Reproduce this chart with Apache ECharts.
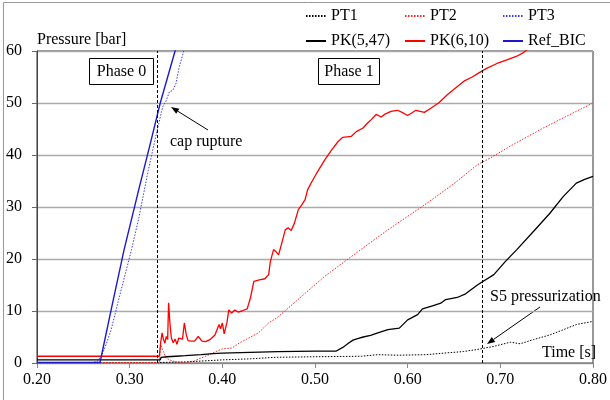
<!DOCTYPE html>
<html>
<head>
<meta charset="utf-8">
<script src="https://cdn.jsdelivr.net/npm/echarts@6/dist/echarts.min.js"></script>
<style>
  html, body { margin: 0; padding: 0; background: #fff; }
  #chart { width: 610px; height: 400px; }
</style>
</head>
<body>
<div id="chart"></div>
<script>
// Time [s] vs pressure [bar] samples for each measurement channel
const pt1 = [[0.20,0.05],[0.33,0.1],[0.36,0.2],[0.38,0.4],[0.40,0.6],[0.43,0.8],[0.458,1.1],[0.50,1.2],[0.55,1.3],[0.5678,1.6],[0.59,1.5],[0.62,1.6],[0.639,1.9],[0.66,2.2],[0.675,2.6],[0.693,3.2],[0.7107,4.0],[0.7214,3.7],[0.7357,4.5],[0.7535,5.4],[0.768,6.4],[0.782,7.4],[0.80,8.0]];

const pt2 = [[0.20,0.05],[0.332,0.1],[0.3335,3.5],[0.335,2.8],[0.3365,2.2],[0.339,1.0],[0.343,0.6],[0.35,0.2],[0.36,0.1],[0.37,0.4],[0.376,0.9],[0.382,1.3],[0.393,2.2],[0.40,2.7],[0.4107,2.9],[0.418,3.8],[0.4285,4.8],[0.439,5.8],[0.45,7.7],[0.459,8.7],[0.4714,10.6],[0.49,13.5],[0.5107,16.7],[0.5357,20.0],[0.5678,24.2],[0.5786,25.6],[0.6214,30.8],[0.650,34.5],[0.675,38.1],[0.689,39.4],[0.7107,41.7],[0.7464,45.2],[0.782,48.4],[0.80,50.0]];

const pt3 = [[0.20,0.05],[0.26,0.1],[0.265,0.3],[0.27,1.5],[0.275,3.8],[0.28,6.4],[0.29,13.5],[0.302,21.8],[0.31,28],[0.32,37],[0.33,45],[0.3357,49.3],[0.339,50.3],[0.343,52.2],[0.3465,52.4],[0.35,53.8],[0.3536,57],[0.358,59.8],[0.365,64]];

const pk547 = [[0.20,0.6],[0.333,0.6],[0.334,1.1],[0.34,1.2],[0.35,1.3],[0.36,1.4],[0.377,1.6],[0.39,1.8],[0.40,1.9],[0.42,2.0],[0.46,2.2],[0.50,2.3],[0.523,2.3],[0.53,3.0],[0.536,3.8],[0.541,4.4],[0.546,4.7],[0.552,5.0],[0.56,5.3],[0.5678,5.8],[0.5786,6.4],[0.591,6.7],[0.600,8.3],[0.6107,9.3],[0.616,10.4],[0.6268,11.0],[0.6357,11.5],[0.641,12.2],[0.6535,12.6],[0.6625,13.3],[0.676,15.1],[0.693,17.0],[0.7053,19.5],[0.7178,21.8],[0.7357,25.3],[0.7535,28.8],[0.7678,32.0],[0.782,34.6],[0.791,35.3],[0.80,35.9]];

const pk610 = [[0.20,1.3],[0.332,1.3],[0.3335,4.0],[0.335,5.8],[0.3365,4.5],[0.338,3.8],[0.3395,5.1],[0.341,4.5],[0.342,11.6],[0.3435,7.5],[0.345,4.8],[0.347,3.9],[0.349,4.6],[0.351,3.6],[0.353,4.8],[0.355,5.1],[0.357,4.6],[0.359,7.7],[0.361,5.5],[0.363,4.3],[0.366,4.2],[0.370,4.2],[0.374,5.1],[0.378,4.2],[0.382,4.1],[0.3875,4.6],[0.392,5.4],[0.3965,7.4],[0.398,6.6],[0.400,7.7],[0.402,5.6],[0.405,7.8],[0.407,10.2],[0.410,9.6],[0.4135,10.2],[0.417,9.8],[0.421,10.0],[0.4268,10.4],[0.4303,12.5],[0.434,15.7],[0.440,16.0],[0.446,16.2],[0.450,17.0],[0.4518,19.5],[0.4553,21.8],[0.4575,21.5],[0.4607,20.8],[0.4642,23.1],[0.4679,25.6],[0.471,26.0],[0.4743,25.5],[0.4778,26.9],[0.482,29.5],[0.4857,30.4],[0.4893,31.4],[0.492,33.3],[0.4964,34.8],[0.5018,36.5],[0.5107,39.1],[0.518,41.0],[0.525,42.6],[0.530,43.4],[0.5393,43.6],[0.5446,44.5],[0.5518,45.2],[0.557,46.2],[0.5607,46.8],[0.566,47.8],[0.5678,47.6],[0.5714,47.3],[0.575,47.8],[0.582,48.4],[0.589,48.6],[0.594,48.2],[0.600,47.6],[0.609,48.6],[0.618,48.2],[0.625,49.0],[0.634,50.1],[0.6428,51.6],[0.6517,52.9],[0.6607,54.2],[0.6696,55.0],[0.6768,55.8],[0.6857,56.7],[0.6964,57.6],[0.7071,58.3],[0.7178,59.0],[0.725,59.7],[0.735,61.0],[0.76,63.5]];

const refBic = [[0.20,0.1],[0.268,0.1],[0.28,10.2],[0.294,21.8],[0.31,33.5],[0.322,42],[0.333,50],[0.341,55],[0.349,60],[0.36,67]];

// Event times marked with vertical dashed lines
const eventTimes = [0.333, 0.677];

const xTicks = { min: 0.2, max: 0.8, step: 0.1 };
const yTicks = { min: 0, max: 60, step: 10 };

const serif = '"Liberation Serif", "Times New Roman", serif';

function arrow(x1, y1, x2, y2) {
  const dx = x2 - x1, dy = y2 - y1;
  const len = Math.hypot(dx, dy);
  const ux = dx / len, uy = dy / len;
  const bx = x2 - 8 * ux, by = y2 - 8 * uy;
  const nx = -uy * 3, ny = ux * 3;
  return [
    { type: 'line', shape: { x1: x1, y1: y1, x2: bx, y2: by }, style: { stroke: '#000', lineWidth: 1 } },
    { type: 'polygon', shape: { points: [[x2, y2], [bx + nx, by + ny], [bx - nx, by - ny]] }, style: { fill: '#000' } }
  ];
}

function text(x, y, s, align) {
  return { type: 'text', x: x, y: y, style: { text: s, font: '16px ' + serif, fill: '#000', textAlign: align || 'left', textVerticalAlign: 'middle' } };
}

function legendAt(name, left, top) {
  return {
    data: [name], left: left, top: top, padding: 0,
    itemWidth: 20, itemHeight: 12,
    itemStyle: { opacity: 0 },
    textStyle: { fontFamily: serif, fontSize: 16, color: '#000' }
  };
}

const chart = echarts.init(document.getElementById('chart'), null, { renderer: 'canvas' });

const lineSeries = (name, data, color, type, width) => ({
  name: name, type: 'line', data: data, symbol: 'none', animation: false,
  lineStyle: { color: color, type: type, width: width },
  itemStyle: { color: color },
  clip: true
});

const option = {
  animation: false,
  backgroundColor: '#fff',
  grid: { left: 37, right: 13, top: 51, bottom: 37, show: true, borderColor: '#333', borderWidth: 1 },
  legend: [
    legendAt('PT1', 305, 8), legendAt('PT2', 404, 8), legendAt('PT3', 502, 8),
    legendAt('PK(5,47)', 305, 33), legendAt('PK(6,10)', 404, 33), legendAt('Ref_BIC', 502, 33)
  ],
  xAxis: {
    type: 'value', min: xTicks.min, max: xTicks.max, interval: xTicks.step,
    axisLine: { onZero: false, lineStyle: { color: '#888', width: 1 } },
    axisTick: { show: true, inside: false, length: 5, lineStyle: { color: '#888' } },
    splitLine: { show: false },
    axisLabel: { formatter: v => v.toFixed(2), fontFamily: serif, fontSize: 16, color: '#000', margin: 9 }
  },
  yAxis: {
    type: 'value', min: yTicks.min, max: yTicks.max, interval: yTicks.step,
    axisLine: { show: true, lineStyle: { color: '#444', width: 1 } },
    axisTick: { show: true, inside: false, length: 5, lineStyle: { color: '#666' } },
    splitLine: { show: true, lineStyle: { color: '#aaa', width: 1.3 } },
    axisLabel: { fontFamily: serif, fontSize: 16, color: '#000', margin: 15 }
  },
  series: [
    Object.assign(lineSeries('PT1', pt1, '#000', [1.5, 1.5], 1), {
      markLine: {
        silent: true, symbol: 'none', animation: false,
        label: { show: false },
        lineStyle: { color: '#000', type: [3, 2], width: 1 },
        data: eventTimes.map(t => ({ xAxis: t }))
      }
    }),
    lineSeries('PT2', pt2, '#ff2020', [1.5, 1.5], 1),
    lineSeries('PT3', pt3, '#3a3aff', [1.5, 1.5], 1),
    lineSeries('PK(5,47)', pk547, '#000', 'solid', 1.3),
    lineSeries('PK(6,10)', pk610, '#ff0000', 'solid', 1.3),
    lineSeries('Ref_BIC', refBic, '#1a1acc', 'solid', 1.4)
  ],
  graphic: [
    { type: 'rect', shape: { x: 3.5, y: 2.5, width: 800, height: 600 }, style: { fill: 'none', stroke: '#999', lineWidth: 1 }, silent: true },
    text(37, 40, 'Pressure [bar]'),
    { type: 'rect', shape: { x: 89.5, y: 58.5, width: 64, height: 26 }, style: { fill: '#fff', stroke: '#000', lineWidth: 1 } },
    text(121.5, 71.5, 'Phase 0', 'center'),
    { type: 'rect', shape: { x: 318.5, y: 58.5, width: 61, height: 26 }, style: { fill: '#fff', stroke: '#000', lineWidth: 1 } },
    text(349, 71.5, 'Phase 1', 'center'),
    text(170, 142, 'cap rupture'),
    text(490, 297, 'S5 pressurization'),
    text(542, 353, 'Time [s]')
  ].concat(arrow(208, 130, 171, 107), arrow(540, 307, 487, 344))
};

chart.setOption(option);
</script>
</body>
</html>
